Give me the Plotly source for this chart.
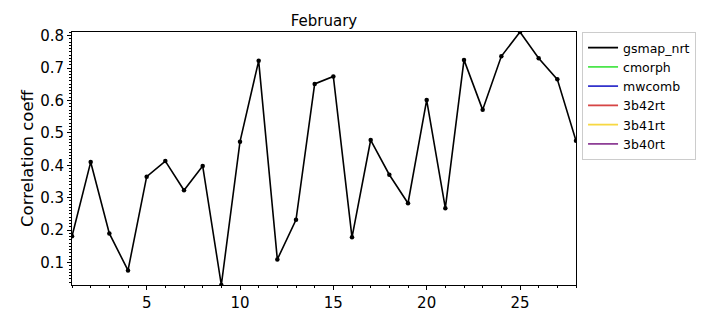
import plotly.graph_objects as go

days = list(range(1, 29))
gsmap_nrt = [0.181, 0.41, 0.19, 0.076, 0.365, 0.413, 0.323, 0.398, 0.031, 0.473,
             0.722, 0.11, 0.232, 0.651, 0.674, 0.178, 0.478, 0.371, 0.283, 0.601,
             0.268, 0.725, 0.571, 0.736, 0.811, 0.73, 0.665, 0.476]

series_names = ["gsmap_nrt", "cmorph", "mwcomb", "3b42rt", "3b41rt", "3b40rt"]
series_colors = ["#000000", "#4ce64c", "#3333cc", "#d64545", "#f7d842", "#8e3f96"]

y_ticks = [0.1, 0.2, 0.3, 0.4, 0.5, 0.6, 0.7, 0.8]
x_ticks = [5, 10, 15, 20, 25]

fig = go.Figure()
# legend entries (lines only, as in the reference)
for name, color in zip(series_names, series_colors):
    fig.add_trace(go.Scatter(x=[None], y=[None], mode="lines", name=name,
                             legendgroup=name,
                             line=dict(color=color, width=1.8)))
fig.add_trace(go.Scatter(x=days, y=gsmap_nrt, mode="lines+markers", name=series_names[0],
                         legendgroup=series_names[0], showlegend=False,
                         line=dict(color=series_colors[0], width=1.6),
                         marker=dict(color=series_colors[0], size=4.5)))

fig.update_layout(
    width=720, height=324,
    margin=dict(l=72, r=144, t=32, b=32),
    paper_bgcolor="white", plot_bgcolor="white",
    font=dict(family="DejaVu Sans", color="black"),
    title=dict(text="February", x=324/720, xanchor="center", y=1-21/324, yanchor="middle",
               font=dict(size=15)),
    legend=dict(x=1.012, y=1.0, xanchor="left", yanchor="top",
                bgcolor="white", bordercolor="#cccccc", borderwidth=1,
                font=dict(size=12.5), tracegroupgap=0),
    showlegend=True,
)
fig.update_xaxes(range=[min(days), max(days)], tickvals=x_ticks, ticks="outside",
                 ticklen=4, tickwidth=1, tickcolor="black",
                 showline=True, linecolor="black", linewidth=1, mirror=True,
                 showgrid=False, zeroline=False, tickfont=dict(size=15),
                 minor=dict(dtick=1, tick0=0, ticks="outside", ticklen=2, tickcolor="black"))
fig.update_yaxes(range=[min(gsmap_nrt), max(gsmap_nrt)], tickvals=y_ticks, ticks="outside",
                 ticklen=4, tickwidth=1, tickcolor="black",
                 showline=True, linecolor="black", linewidth=1, mirror=True,
                 showgrid=False, zeroline=False, tickfont=dict(size=15),
                 title=dict(text="Correlation coeff", font=dict(size=16.5), standoff=2),
                 minor=dict(dtick=0.01, tick0=0, ticks="outside", ticklen=2, tickcolor="black"))

fig.write_html("out.html")
